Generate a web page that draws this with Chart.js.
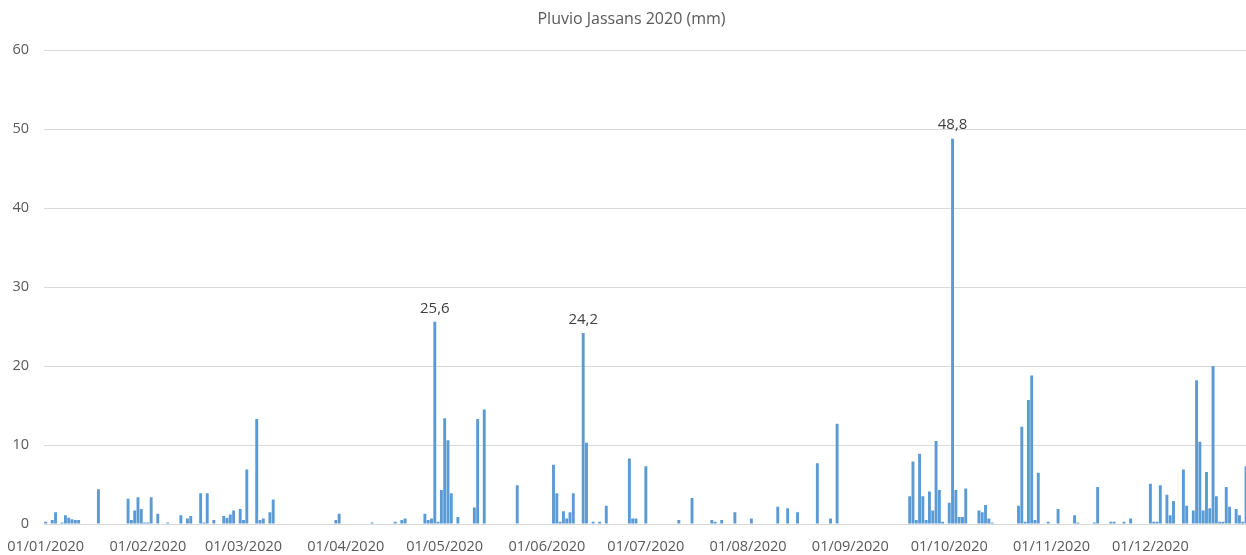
<!DOCTYPE html>
<html>
<head>
<meta charset="utf-8">
<script src="https://cdn.jsdelivr.net/npm/chart.js@4/dist/chart.umd.min.js"></script>
<style>
  html, body { margin: 0; padding: 0; background: #fff; overflow: hidden; }
  /* the original plot runs a few px past the right edge of the picture */
  #wrap { width: 1246px; height: 555px; overflow: hidden; }
</style>
</head>
<body>
<div id="wrap"><canvas id="chart" width="1251" height="555"></canvas></div>
<script>
// daily rain (mm), one small array per month
const jan = [0.3,0,0.5,1.5,0,0.2,1.1,0.8,0.6,0.5, 0.5,0,0,0,0,0,4.4,0,0,0, 0,0,0,0,0,3.2,0.5,1.7,3.4,1.9, 0.2];
const feb = [0.2,3.4,0,1.3,0,0,0.2,0,0,0, 1.1,0,0.7,1.0,0,0,3.9,0.2,3.9,0, 0.5,0,0,1.0,0.8,1.2,1.7,0,1.9];
const mar = [0.5,6.9,0,0,13.3,0.5,0.7,0,1.5,3.1, 0,0,0,0,0,0,0,0,0,0, 0,0,0,0,0,0,0,0,0.5,1.3, 0];
const apr = [0,0,0,0,0,0,0,0,0.2,0, 0,0,0,0,0,0.3,0,0.5,0.7,0, 0,0,0,0,1.3,0.5,0.7,25.6,0.3,4.3];
const may = [13.4,10.6,3.9,0,0.9,0,0,0,0,2.1, 13.3,0,14.5,0,0,0,0,0,0,0, 0,0,4.9,0,0,0,0,0,0,0, 0];
const jun = [0,0,7.5,3.9,0.3,1.6,0.7,1.5,3.9,0, 0,24.2,10.3,0,0.3,0,0.3,0,2.3,0, 0,0,0,0,0,8.3,0.7,0.7,0,0];
const jul = [7.3,0,0,0,0,0,0,0,0,0, 0.5,0,0,0,3.3,0,0,0,0,0, 0.5,0.3,0,0.5,0,0,0,1.5,0,0, 0];
const aug = [0,0.7,0,0,0,0,0,0,0,2.2, 0,0,2.0,0,0,1.5,0,0,0,0, 0,7.7,0,0,0,0.7,0,12.7,0,0, 0];
const sep = [0,0,0,0,0,0,0,0,0,0, 0,0,0,0,0,0,0,0,3.5,7.9, 0.5,8.9,3.5,0.5,4.1,1.7,10.5,4.3,0.3,0];
const oct = [2.7,48.8,4.3,0.9,0.9,4.5,0,0,0,1.7, 1.5,2.4,0.7,0.2,0,0,0,0,0,0, 0,2.3,12.3,0.3,15.7,18.8,0.5,6.5,0,0, 0.3];
const nov = [0,0,1.9,0,0,0,0,1.1,0.2,0, 0,0,0,0.2,4.7,0,0,0,0.3,0.3, 0,0,0.3,0,0.7,0,0,0,0,0];
const dec = [5.1,0.3,0.3,4.9,0,3.7,1.1,2.9,0,0, 6.9,2.3,0,1.7,18.2,10.4,1.7,6.6,2.0,20.0, 3.5,0.3,0.3,4.7,2.2,0,1.9,1.1,0.3,7.3, 0];

const months = [jan, feb, mar, apr, may, jun, jul, aug, sep, oct, nov, dec];
const yTicks = [0, 10, 20, 30, 40, 50, 60];
const labelMin = 24; // only the big peaks get a value label

// build dd/mm/2020 labels and the flat series
const labels = [];
const rain = [];
months.forEach((days, m) => {
  days.forEach((v, d) => {
    labels.push(String(d + 1).padStart(2, '0') + '/' + String(m + 1).padStart(2, '0') + '/2020');
    rain.push(v);
  });
});

const isMonthStart = (i) => labels[i] && labels[i].startsWith('01/');

const FONT = '"Open Sans", "Liberation Sans", sans-serif';
const TEXT = '#595959';
const GRID = '#d9d9d9';

// draws "25,6" style labels above the big bars
const peakLabels = {
  id: 'peakLabels',
  afterDatasetsDraw(chart) {
    const ctx = chart.ctx;
    const meta = chart.getDatasetMeta(0);
    ctx.save();
    ctx.font = '15px ' + FONT;
    ctx.fillStyle = '#404040';
    ctx.textAlign = 'center';
    ctx.textBaseline = 'bottom';
    meta.data.forEach((bar, i) => {
      if (rain[i] < labelMin) return;
      ctx.fillText(rain[i].toFixed(1).replace('.', ','), bar.x, bar.y - 6);
    });
    ctx.restore();
  }
};

new Chart(document.getElementById('chart'), {
  type: 'bar',
  data: {
    labels: labels,
    datasets: [{
      data: rain,
      backgroundColor: '#5b9bd5',
      borderWidth: 0,
      barPercentage: 0.88,
      categoryPercentage: 1.0
    }]
  },
  options: {
    responsive: false,
    animation: false,
    layout: { padding: { left: 12, right: 0, top: 10, bottom: 0 } },
    plugins: {
      legend: { display: false },
      tooltip: { enabled: false },
      title: {
        display: true,
        text: 'Pluvio Jassans 2020 (mm)',
        color: TEXT,
        font: { family: FONT, size: 16, weight: 'normal' },
        padding: { top: 0, bottom: 21 }
      }
    },
    scales: {
      x: {
        offset: true,
        // keep the long first label from pushing the plot to the right
        afterFit: (s) => { s.paddingLeft = 0; s.paddingRight = 0; s.height = 31; },
        grid: {
          display: true,
          drawOnChartArea: false,
          drawTicks: true,
          tickLength: 6,
          color: (c) => isMonthStart(c.index) ? GRID : 'transparent'
        },
        border: { display: true, color: GRID },
        ticks: {
          autoSkip: false,
          maxRotation: 0,
          minRotation: 0,
          padding: 8,
          color: TEXT,
          font: { family: FONT, size: 14.5 },
          callback: (v, i) => isMonthStart(i) ? labels[i] : null
        }
      },
      y: {
        min: yTicks[0],
        max: yTicks[yTicks.length - 1],
        afterBuildTicks: (axis) => { axis.ticks = yTicks.map(v => ({ value: v })); },
        afterFit: (s) => { s.width = 32; },
        grid: { color: GRID, drawTicks: false },
        border: { display: false },
        ticks: {
          padding: 15,
          color: TEXT,
          font: { family: FONT, size: 14.5 }
        }
      }
    }
  },
  plugins: [peakLabels]
});
</script>
</body>
</html>
